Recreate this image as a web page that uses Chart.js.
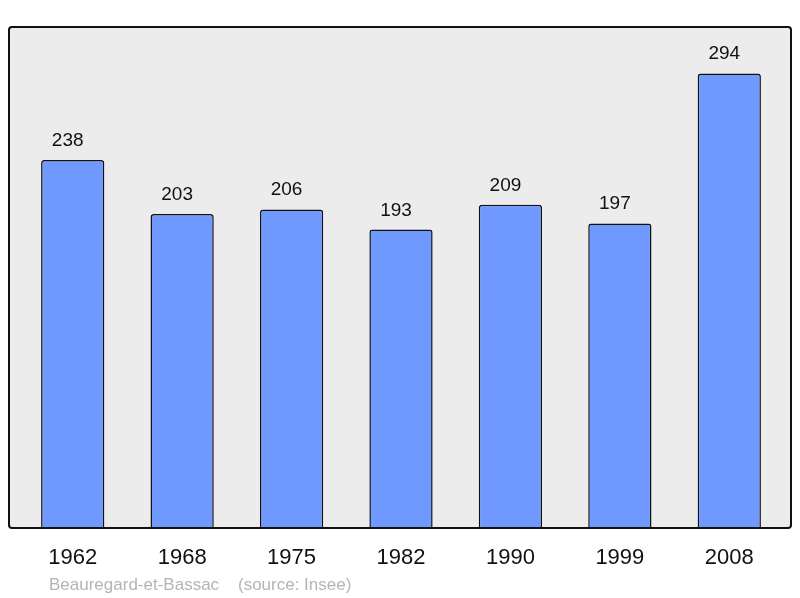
<!DOCTYPE html>
<html>
<head>
<meta charset="utf-8">
<script src="https://cdn.jsdelivr.net/npm/chart.js@4/dist/chart.umd.min.js"></script>
<style>
html,body{margin:0;padding:0;background:#fff;}
canvas{display:block;}
</style>
</head>
<body>
<canvas id="c" width="800" height="598"></canvas>
<script>
const years = ["1962", "1968", "1975", "1982", "1990", "1999", "2008"];
const population = [238, 203, 206, 193, 209, 197, 294];
const footerText = "Beauregard-et-Bassac    (source: Insee)";

const FONT = "'Liberation Sans', Arial, sans-serif";

const framePlugin = {
  id: 'frame',
  beforeDraw(chart) {
    const ctx = chart.ctx;
    const a = chart.chartArea;
    const x0 = 9, x1 = 791, y0 = a.top, y1 = a.bottom;
    ctx.save();
    ctx.fillStyle = '#fff';
    ctx.fillRect(0, 0, chart.width, chart.height);
    ctx.beginPath();
    ctx.roundRect(x0, y0, x1 - x0, y1 - y0, 3);
    ctx.fillStyle = '#ececec';
    ctx.fill();
    ctx.restore();
  },
  afterDatasetsDraw(chart) {
    const ctx = chart.ctx;
    const a = chart.chartArea;
    const x0 = 9, x1 = 791, y0 = a.top, y1 = a.bottom;
    ctx.save();
    ctx.beginPath();
    ctx.roundRect(x0, y0, x1 - x0, y1 - y0, 3);
    ctx.lineWidth = 2;
    ctx.strokeStyle = '#111';
    ctx.stroke();
    // value labels
    const meta = chart.getDatasetMeta(0);
    ctx.fillStyle = '#111';
    ctx.textAlign = 'center';
    ctx.textBaseline = 'alphabetic';
    ctx.font = '19px ' + FONT;
    meta.data.forEach((bar, i) => {
      ctx.fillText(String(population[i]), bar.x - 5, bar.y - 14);
    });
    // category labels
    ctx.font = '22px ' + FONT;
    const xs = chart.scales.x;
    years.forEach((y, i) => {
      ctx.fillText(y, xs.getPixelForValue(i), a.bottom + 36);
    });
    // footer
    ctx.textAlign = 'left';
    ctx.font = '17px ' + FONT;
    ctx.fillStyle = '#b4b4b4';
    ctx.fillText(footerText, 49, 590);
    ctx.restore();
  }
};

new Chart(document.getElementById('c'), {
  type: 'bar',
  data: {
    labels: years,
    datasets: [{
      data: population,
      backgroundColor: '#7099ff',
      borderColor: '#111',
      borderWidth: 1.5,
      borderSkipped: 'bottom',
      borderRadius: {topLeft: 3, topRight: 3, bottomLeft: 0, bottomRight: 0},
      barPercentage: 0.578,
      categoryPercentage: 1.0
    }]
  },
  options: {
    responsive: false,
    animation: false,
    devicePixelRatio: 1,
    layout: {padding: {left: 18, right: 16, top: 27, bottom: 70}},
    plugins: {legend: {display: false}, tooltip: {enabled: false}},
    scales: {
      x: {display: false},
      y: {display: false, min: 0, max: 324}
    }
  },
  plugins: [framePlugin]
});
</script>
</body>
</html>
